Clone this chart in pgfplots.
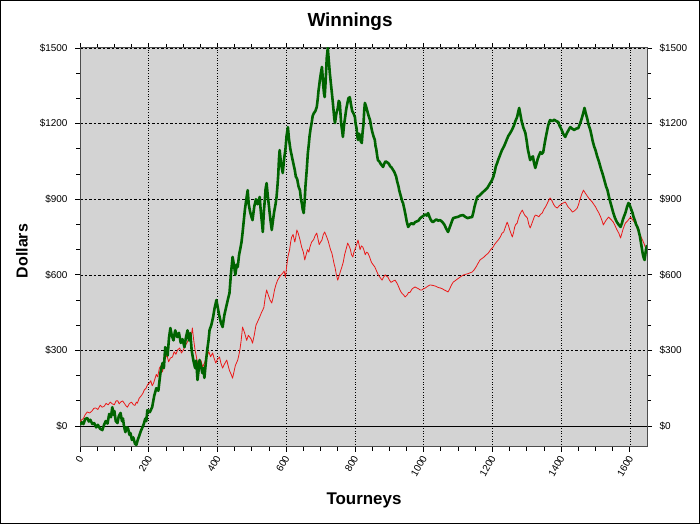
\documentclass[border=0pt]{standalone}
\usepackage{pgfplots}
\pgfplotsset{compat=1.18}
\usepackage{fontspec}
\setmainfont{Liberation Sans}
\definecolor{plotgray}{RGB}{211,211,211}
\definecolor{dgreen}{RGB}{0,100,0}
\definecolor{lred}{RGB}{235,25,25}
\begin{document}
\begin{tikzpicture}[x=1bp,y=1bp]
\useasboundingbox (0,0) rectangle (700,524);
\fill[white] (0,0) rectangle (700,524);
\begin{axis}[
  at={(80bp,77bp)}, anchor=south west,
  scale only axis, width=567bp, height=399bp,
  xmin=0, xmax=1650, ymin=-83, ymax=1500,
  axis background/.style={fill=plotgray},
  axis line style={black!70, line width=1bp},
  xtick={0,200,...,1600},
  xticklabels={0,200,400,600,800,1000,1200,1400,1600},
  minor x tick num=3,
  ytick={0,300,...,1500},
  yticklabels={\$0,\$300,\$600,\$900,\$1200,\$1500},
  minor y tick num=2,
  tick align=outside,
  major tick length=5bp, minor tick length=4bp,
  tick style={black, line width=0.8bp},
  grid=major,
  major x grid style={black, line width=0.6bp, dotted},
  major y grid style={black, line width=0.6bp, dash pattern=on 2.5bp off 2bp},
  xtick pos=both, ytick pos=left,
  yticklabel style={font=\fontsize{10}{12}\selectfont, xshift=-4bp},
  xticklabel style={font=\fontsize{10}{12}\selectfont, rotate=60, anchor=east, yshift=-3bp},
  clip=true,
]
\addplot[black, line width=0.8bp, forget plot] coordinates {(0,0) (1650,0)};
\addplot[lred, line width=0.8bp, line join=round] coordinates {
(0,16) (5,25) (10,30) (15,45) (21,56) (28,52) (35,60) (40,70) (45,72) (52,66) (59,83) (64,75) (70,78)
(76,90) (82,84) (88,95) (94,88) (100,85) (105,100) (110,100) (114,88) (118,95) (124,100) (130,88)
(134,80) (138,75) (144,90) (150,95) (155,85) (160,82) (164,95) (167,91) (172,110) (178,120) (183,130)
(187,143) (192,150) (197,165) (202,171) (206,180) (210,160) (214,170) (217,183) (222,205) (226,195)
(231,230) (236,240) (240,215) (244,240) (248,270) (253,280) (258,255) (263,270) (269,274) (274,295)
(279,285) (284,302) (290,310) (295,290) (300,300) (304,313) (309,325) (315,340) (320,350) (324,360)
(327,389) (331,340) (335,300) (338,280) (342,250) (347,240) (352,260) (357,234) (362,250) (366,265)
(370,280) (375,295) (380,275) (386,290) (390,270) (395,250) (400,265) (406,274) (410,250) (415,230)
(420,245) (427,262) (431,240) (435,220) (440,205) (444,190) (448,215) (452,240) (459,262) (462,280)
(465,300) (469,340) (473,393) (479,370) (485,340) (490,360) (494,353) (498,345) (502,329) (507,360)
(512,400) (517,415) (523,433) (528,450) (535,470) (539,510) (543,540) (548,520) (553,500) (558,488)
(562,510) (566,540) (570,560) (575,579) (580,590) (585,600) (590,607) (594,615) (598,590) (601,630)
(605,671) (610,700) (613,730) (616,750) (620,760) (625,730) (628,750) (631,778) (635,765) (640,740)
(645,710) (650,690) (654,659) (658,680) (662,700) (666,690) (669,710) (674,730) (680,740) (684,755)
(689,766) (693,740) (696,720) (700,730) (704,738) (708,760) (712,770) (715,760) (718,750) (722,735)
(725,720) (729,700) (733,686) (737,660) (740,640) (742,631) (746,600) (750,579) (755,600) (758,615)
(762,631) (766,650) (770,680) (774,700) (779,726) (783,715) (787,700) (790,680) (794,671) (797,690)
(800,700) (805,720) (809,738) (812,720) (815,700) (819,715) (823,710) (827,695) (830,680) (834,690)
(838,686) (843,670) (848,650) (853,640) (858,631) (863,615) (868,600) (873,590) (879,579) (883,590)
(888,600) (892,595) (896,591) (900,580) (905,570) (911,575) (917,579) (921,570) (925,560) (928,550)
(931,540) (935,530) (938,525) (942,520) (946,512) (952,520) (956,530) (960,530) (967,545) (975,552)
(980,548) (985,545) (990,540) (995,540) (1000,545) (1005,548) (1012,555) (1019,560) (1027,558)
(1035,555) (1042,550) (1048,548) (1054,545) (1060,540) (1066,536) (1071,532) (1076,545) (1081,560)
(1086,571) (1093,578) (1100,585) (1107,592) (1115,599) (1122,602) (1130,605) (1135,608) (1141,611)
(1147,620) (1152,630) (1158,645) (1164,659) (1170,665) (1175,670) (1181,678) (1188,686) (1195,700)
(1202,710) (1207,722) (1212,730) (1218,740) (1223,750) (1228,765) (1233,770) (1238,790) (1243,809)
(1247,795) (1250,780) (1254,765) (1258,750) (1262,770) (1265,790) (1268,800) (1272,805) (1276,825)
(1280,840) (1284,850) (1287,857) (1291,845) (1295,835) (1299,830) (1302,825) (1306,800) (1310,786)
(1314,800) (1318,815) (1322,830) (1325,837) (1330,835) (1335,830) (1340,840) (1345,845) (1350,860)
(1355,870) (1362,890) (1368,905) (1373,895) (1378,880) (1383,870) (1389,865) (1395,875) (1400,880)
(1406,885) (1412,889) (1416,880) (1420,870) (1427,860) (1433,849) (1440,855) (1447,865) (1451,880)
(1455,900) (1460,920) (1465,936) (1470,925) (1475,915) (1480,905) (1485,897) (1490,890) (1495,880)
(1500,870) (1505,857) (1510,845) (1515,830) (1519,815) (1523,798) (1530,815) (1538,829) (1545,820)
(1552,809) (1557,795) (1562,780) (1568,765) (1573,746) (1577,765) (1580,780) (1584,795) (1587,805)
(1594,815) (1602,829) (1606,822) (1610,815) (1616,805) (1620,790) (1625,770) (1631,755) (1637,738)
(1641,725) (1645,710) (1650,698)
};
\addplot[dgreen, line width=2.6bp, line join=round] coordinates {
(0,5) (5,15) (10,8) (15,28) (21,32) (26,18) (30,25) (36,8) (41,12) (47,-5) (52,5) (58,-10) (65,-16)
(70,5) (75,20) (80,10) (85,48) (90,35) (94,75) (97,45) (100,60) (104,20) (109,12) (113,40) (118,52)
(122,20) (125,30) (128,0) (132,-24) (136,-5) (140,-10) (144,-35) (147,-28) (151,-55) (155,-45)
(160,-70) (164,-75) (168,-55) (172,-40) (177,-20) (182,-4) (186,10) (190,30) (193,20) (196,63)
(203,55) (210,75) (216,120) (222,150) (228,140) (234,210) (240,250) (244,230) (248,313) (252,300)
(255,280) (259,350) (263,389) (267,360) (272,340) (277,380) (283,353) (288,370) (293,330) (298,345)
(304,313) (308,350) (313,380) (317,340) (321,369) (325,300) (330,260) (335,230) (338,260) (342,183)
(345,220) (348,262) (352,240) (356,210) (359,230) (362,191) (366,250) (370,300) (374,340) (377,381)
(382,400) (387,430) (392,470) (397,500) (401,470) (405,440) (410,410) (415,393) (420,440) (425,470)
(430,500) (435,528) (439,600) (444,671) (448,640) (452,600) (456,640) (459,631) (463,680) (466,700)
(470,730) (473,766) (477,820) (480,860) (484,900) (488,936) (491,880) (495,850) (499,830) (502,817)
(507,870) (512,900) (517,880) (523,909) (525,870) (527,840) (530,800) (532,770) (535,850) (538,900)
(540,940) (543,964) (546,920) (550,870) (554,820) (558,778) (562,820) (565,850) (569,880) (572,909)
(575,960) (577,1000) (579,1060) (581,1095) (585,1040) (590,1004) (594,1060) (598,1100) (601,1150)
(605,1186) (608,1140) (612,1100) (618,1060) (625,1016) (628,990) (632,980) (636,950) (640,936)
(643,900) (646,880) (648,860) (651,845) (654,900) (656,950) (660,1020) (663,1083) (666,1120)
(668,1150) (671,1180) (674,1202) (677,1230) (680,1240) (685,1250) (689,1266) (692,1300) (694,1330)
(696,1350) (698,1373) (701,1400) (704,1425) (706,1390) (708,1350) (710,1320) (712,1305) (714,1350)
(716,1400) (718,1460) (721,1500) (724,1450) (727,1400) (730,1360) (733,1321) (736,1280) (738,1250)
(740,1220) (742,1202) (746,1240) (750,1260) (753,1290) (756,1282) (758,1240) (760,1200) (763,1170)
(765,1147) (768,1190) (772,1230) (775,1260) (778,1280) (781,1300) (785,1305) (788,1280) (792,1250)
(796,1240) (800,1226) (802,1200) (805,1180) (807,1150) (809,1135) (812,1160) (815,1150) (817,1130)
(820,1123) (822,1160) (825,1200) (827,1250) (829,1282) (832,1270) (836,1250) (840,1230) (844,1214)
(847,1190) (850,1170) (854,1150) (858,1135) (860,1110) (862,1100) (865,1070) (867,1055) (871,1050)
(875,1040) (878,1035) (882,1028) (885,1040) (889,1050) (892,1048) (896,1044) (899,1040) (903,1030)
(907,1025) (911,1016) (914,1010) (917,1000) (920,990) (922,976) (925,960) (927,950) (929,935)
(931,925) (934,910) (936,900) (938,890) (940,885) (944,860) (947,840) (951,810) (955,790) (960,800)
(965,805) (970,800) (975,809) (980,812) (985,815) (990,825) (995,830) (1000,835) (1005,840)
(1009,835) (1013,845) (1017,830) (1020,820) (1024,812) (1027,809) (1032,815) (1037,820) (1042,815)
(1048,817) (1054,810) (1060,800) (1065,785) (1071,770) (1075,785) (1079,800) (1083,815) (1086,825)
(1093,828) (1100,830) (1107,835) (1115,837) (1121,830) (1128,825) (1135,828) (1141,829) (1145,850)
(1148,870) (1152,890) (1156,909) (1163,915) (1170,925) (1178,935) (1185,944) (1192,960) (1199,976)
(1203,990) (1207,1010) (1210,1030) (1214,1044) (1218,1060) (1221,1070) (1225,1085) (1228,1095)
(1234,1110) (1240,1130) (1246,1150) (1252,1163) (1257,1175) (1262,1190) (1267,1210) (1272,1226)
(1275,1245) (1278,1262) (1281,1240) (1285,1210) (1290,1185) (1296,1163) (1300,1130) (1303,1100)
(1306,1080) (1310,1055) (1314,1065) (1318,1070) (1321,1045) (1325,1024) (1329,1045) (1332,1060)
(1336,1075) (1340,1087) (1344,1080) (1348,1087) (1352,1120) (1356,1150) (1359,1170) (1362,1190)
(1365,1205) (1368,1214) (1374,1210) (1380,1215) (1386,1210) (1392,1206) (1396,1190) (1400,1180)
(1406,1160) (1412,1147) (1416,1160) (1420,1170) (1424,1180) (1427,1186) (1432,1180) (1438,1175)
(1444,1180) (1450,1182) (1455,1200) (1460,1220) (1464,1240) (1468,1262) (1472,1240) (1476,1220)
(1480,1195) (1485,1175) (1489,1150) (1492,1130) (1496,1110) (1500,1095) (1505,1070) (1510,1050)
(1515,1025) (1520,1004) (1524,985) (1527,970) (1531,950) (1535,936) (1540,905) (1545,880)
(1549,860) (1552,845) (1557,825) (1562,810) (1567,800) (1573,790) (1577,805) (1580,820) (1584,835)
(1587,845) (1592,870) (1596,885) (1600,875) (1604,860) (1608,845) (1611,829) (1615,815) (1618,800)
(1622,790) (1625,778) (1629,755) (1632,730) (1635,705) (1638,680) (1641,665) (1643,659) (1645,680)
(1647,700) (1650,718)
};
\end{axis}
\begin{axis}[
  at={(80bp,77bp)}, anchor=south west,
  scale only axis, width=567bp, height=399bp,
  xmin=0, xmax=1650, ymin=-83, ymax=1500,
  axis x line=none, axis y line*=right,
  axis line style={black!70, line width=1bp},
  ytick={0,300,...,1500},
  yticklabels={\$0,\$300,\$600,\$900,\$1200,\$1500},
  minor y tick num=2,
  tick align=outside,
  major tick length=5bp, minor tick length=4bp,
  tick style={black, line width=0.8bp},
  yticklabel style={font=\fontsize{10}{12}\selectfont, xshift=4bp},
]
\addplot[draw=none, forget plot] coordinates {(0,0)};
\end{axis}
\node[font=\bfseries\fontsize{19}{22}\selectfont] at (350,502) {Winnings};
\node[font=\bfseries\fontsize{17}{20}\selectfont] at (364,24) {Tourneys};
\node[font=\bfseries\fontsize{16}{19}\selectfont, rotate=90] at (22,273) {Dollars};
\draw[black, line width=1bp] (0.5,0.5) rectangle (699.5,523.5);
\end{tikzpicture}
\end{document}
